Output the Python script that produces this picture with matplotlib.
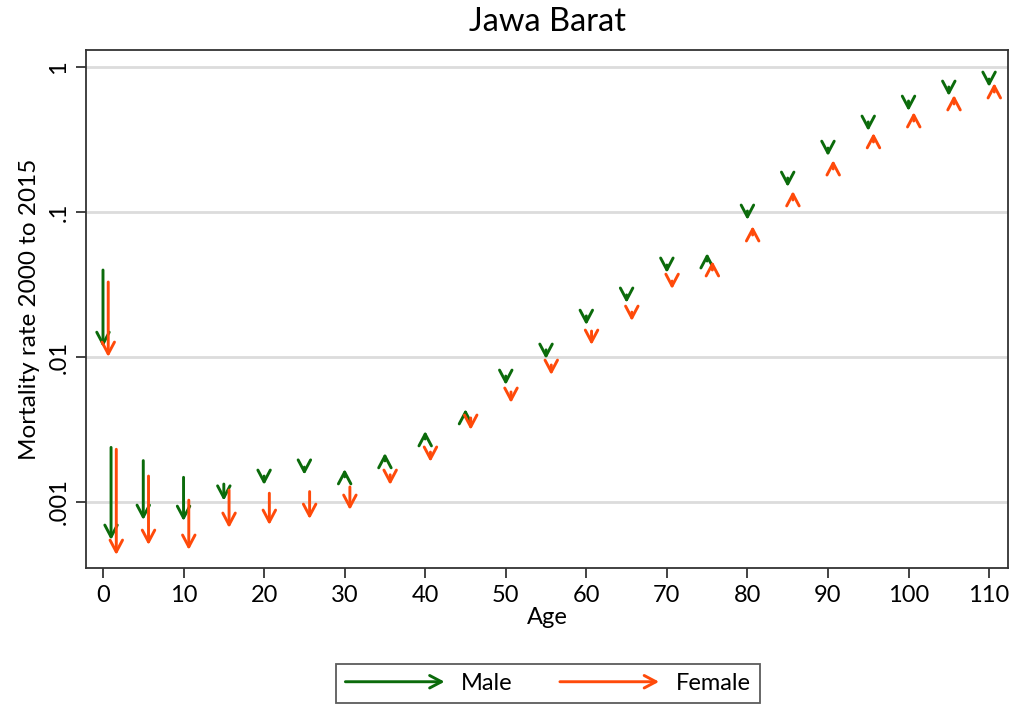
import numpy as np
import matplotlib
matplotlib.use("Agg")
import matplotlib.pyplot as plt
from matplotlib.patches import FancyArrowPatch
from matplotlib.legend_handler import HandlerPatch

plt.rcParams['font.family'] = ['Lato', 'DejaVu Sans']

ages = [0, 1, 5, 10, 15, 20, 25, 30, 35, 40, 45, 50, 55, 60, 65, 70, 75, 80,
        85, 90, 95, 100, 105, 110]

male_2000 = [0.0398, 0.00238, 0.00193, 0.00148, 0.00133, 0.00151, 0.00174, 0.00149,
             0.00192, 0.00272, 0.00386, 0.00739, 0.0112, 0.0192, 0.0268, 0.0431,
             0.0459, 0.1016, 0.1715, 0.276, 0.418, 0.583, 0.728, 0.826]
male_2015 = [0.0117, 0.000547, 0.000751, 0.000739, 0.00102, 0.00131, 0.00154, 0.00169,
             0.00218, 0.00309, 0.00438, 0.00641, 0.00969, 0.0166, 0.0236, 0.0380,
             0.0521, 0.0881, 0.1487, 0.243, 0.362, 0.497, 0.631, 0.728]

female_2000 = [0.0329, 0.00231, 0.00151, 0.00103, 0.00121, 0.00115, 0.00118, 0.00127,
               0.00154, 0.00221, 0.00380, 0.00574, 0.00881, 0.0151, 0.0204, 0.0334,
               0.0398, 0.0694, 0.121, 0.198, 0.304, 0.424, 0.556, 0.672]
female_2015 = [0.0100, 0.000431, 0.000505, 0.000467, 0.000662, 0.000694, 0.000763, 0.000881,
               0.00131, 0.00189, 0.00314, 0.00482, 0.00751, 0.0121, 0.0177, 0.0294,
               0.0459, 0.0800, 0.1396, 0.228, 0.351, 0.489, 0.641, 0.775]

x_ticks = [0, 10, 20, 30, 40, 50, 60, 70, 80, 90, 100, 110]
y_ticks = [0.001, 0.01, 0.1, 1]
y_tick_labels = ['.001', '.01', '.1', '1']

MALE_COLOR = '#0b6b0b'
FEMALE_COLOR = '#ff4a0a'
FEMALE_OFFSET = 0.65
ARROW_STYLE = '->,head_length=0.85,head_width=0.45'

W, H = 1013, 708
fig = plt.figure(figsize=(W / 100, H / 100), dpi=100)
ax = fig.add_axes([86 / W, 1 - 568 / H, (1008 - 86) / W, (568 - 50) / H])
ax.set_yscale('log')
ax.set_xlim(-2.11, 112.35)
ax.set_ylim(10 ** (-501 / 145), 10 ** (17 / 145))


def draw_arrows(xs, y0s, y1s, color):
    for x, a, b in zip(xs, y0s, y1s):
        p = FancyArrowPatch((x, a), (x, b), arrowstyle=ARROW_STYLE, color=color,
                            lw=2.1, mutation_scale=10, shrinkA=0, shrinkB=0,
                            transform=ax.transData, zorder=3)
        ax.add_patch(p)


draw_arrows(ages, male_2000, male_2015, MALE_COLOR)
draw_arrows([a + FEMALE_OFFSET for a in ages], female_2000, female_2015, FEMALE_COLOR)

ax.set_yticks(y_ticks)
ax.set_yticklabels(y_tick_labels, rotation=90, va='center', fontsize=17)
ax.yaxis.set_minor_locator(matplotlib.ticker.NullLocator())
ax.set_xticks(x_ticks)
ax.set_xticklabels([str(t) for t in x_ticks], fontsize=17)
ax.tick_params(axis='both', direction='out', length=7, width=1.2, color='#222222', pad=5)
ax.grid(axis='y', color='#dcdcdc', lw=2, zorder=0)
ax.set_axisbelow(True)
for s in ax.spines.values():
    s.set_color('#333333')
    s.set_linewidth(1.3)

ax.set_xlabel('Age', fontsize=17, labelpad=1)
ax.set_ylabel('Mortality rate 2000 to 2015', fontsize=17.5, labelpad=6)
fig.text(547 / W, 1 - 22 / H, 'Jawa Barat', ha='center', va='center', fontsize=23.5)


class HandlerArrow(HandlerPatch):
    def create_artists(self, legend, orig_handle, xdescent, ydescent, width, height,
                       fontsize, trans):
        y = height / 2 - ydescent
        p = FancyArrowPatch((-xdescent, y), (-xdescent + width, y),
                            arrowstyle=ARROW_STYLE, color=orig_handle.get_edgecolor(),
                            lw=2.1, mutation_scale=10, shrinkA=0, shrinkB=0)
        p.set_transform(trans)
        return [p]


h_male = FancyArrowPatch((0, 0), (1, 0), color=MALE_COLOR)
h_female = FancyArrowPatch((0, 0), (1, 0), color=FEMALE_COLOR)
leg = fig.legend([h_male, h_female], ['Male', 'Female'], ncol=2, loc='center',
                 bbox_to_anchor=(548 / W, 1 - 683.5 / H), fontsize=17,
                 handler_map={FancyArrowPatch: HandlerArrow()},
                 handlelength=4.2, handletextpad=0.7, columnspacing=2.0,
                 frameon=True, fancybox=False, edgecolor='#333333', borderpad=0.4)
leg.get_frame().set_linewidth(1.3)

fig.savefig('out.png', dpi=100)
